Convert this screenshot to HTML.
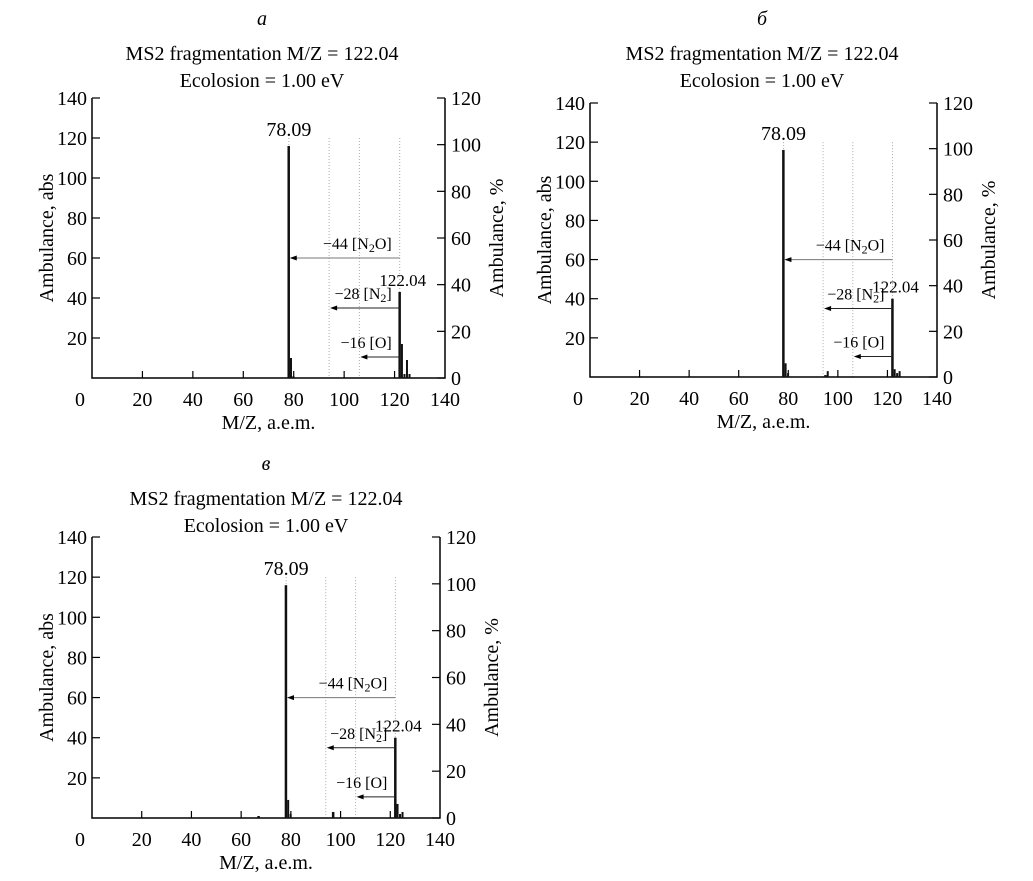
<!DOCTYPE html>
<html><head><meta charset="utf-8"><style>
html,body{margin:0;padding:0;background:#fff}
svg{display:block;font-family:"Liberation Serif",serif}
</style></head><body>
<svg id="chart" width="1033" height="881" viewBox="0 0 1033 881" xmlns="http://www.w3.org/2000/svg"></svg>
<script>
// Data (m/z, abundance abs)
const panelLetters = ["а", "б", "в"];
const peaksA_mz = [78, 79, 80, 122, 123, 124, 125, 126];
const peaksA_ab = [116, 10, 1, 43, 17, 2, 9, 2];
const peaksB_mz = [78, 79, 80, 95, 96, 122, 123, 124, 125];
const peaksB_ab = [116, 7, 2, 1, 3, 40, 4, 2, 3];
const peaksC_mz = [67, 78, 79, 80, 97, 122, 123, 124, 125];
const peaksC_ab = [1, 116, 9, 2, 3, 40, 7, 2, 3];
const xTicks = [0, 20, 40, 60, 80, 100, 120, 140];
const yLeftTicks = [20, 40, 60, 80, 100, 120, 140];
const yRightTicks = [0, 20, 40, 60, 80, 100, 120];
const lossLabels = ["−44 [N<tspan font-size='12' dy='3'>2</tspan><tspan dy='-3'>O]</tspan>", "−28 [N<tspan font-size='12' dy='3'>2</tspan><tspan dy='-3'>]</tspan>", "−16 [O]"];
const lossMz = [44, 28, 16];
const lossLevel = [60, 35, 10.5];
const parentMz = 122.04;
const baseMz = 78.09;

const svg = document.getElementById('chart');
const NS = 'http://www.w3.org/2000/svg';
function mk(tag, attrs, parent) {
  const e = document.createElementNS(NS, tag);
  for (const k in attrs) e.setAttribute(k, attrs[k]);
  (parent || svg).appendChild(e);
  return e;
}

function panel(id, L, R, T, B, cx, letterY, mzs, abs) {
  const g = mk('g', {});
  
  
  const x = v => L + v / 140 * (R - L);
  const yL = v => B - v / 140 * (B - T);
  const yR = v => B - v / 120 * (B - T);
  let t = mk('text', {x: cx, y: letterY, 'text-anchor': 'middle', 'font-size': 20, 'font-style': 'italic'}, g);
  t.textContent = panelLetters[id];
  
  
  t = mk('text', {x: cx, y: letterY + 35, 'text-anchor': 'middle', 'font-size': 20}, g);
  t.textContent = 'MS2 fragmentation M/Z = 122.04';
  
  
  t = mk('text', {x: cx, y: letterY + 62, 'text-anchor': 'middle', 'font-size': 20}, g);
  t.textContent = 'Ecolosion = 1.00 eV';
  
  
  [baseMz, parentMz - 28, parentMz - 16, parentMz].forEach(m => {
    const l = mk('line', {x1: x(m), x2: x(m), y1: yL(120), y2: B, stroke: '#aaa', 'stroke-width': 1, 'stroke-dasharray': '1,2'}, g);
    
    
  });
  const ax = mk('path', {d: `M${L},${T}V${B}H${R}V${T}`, fill: 'none', stroke: '#000', 'stroke-width': 1.5}, g);
  
  
  yLeftTicks.forEach(v => {
    mk('line', {x1: L, x2: L + 8, y1: yL(v), y2: yL(v), stroke: '#000', 'stroke-width': 1.2}, g);
    const tt = mk('text', {x: L - 5, y: yL(v) + 7, 'text-anchor': 'end', 'font-size': 20}, g);
    tt.textContent = v;
    
    
  });
  yRightTicks.forEach(v => {
    mk('line', {x1: R - 8, x2: R, y1: yR(v), y2: yR(v), stroke: '#000', 'stroke-width': 1.2}, g);
    const tt = mk('text', {x: R + 6, y: yR(v) + 7, 'font-size': 20}, g);
    tt.textContent = v;
    
    
  });
  xTicks.forEach(v => {
    if (v > 0 && v < 140) mk('line', {x1: x(v), x2: x(v), y1: B, y2: B - 7, stroke: '#000', 'stroke-width': 1.2}, g);
    const tt = mk('text', {x: v === 0 ? x(v) - 12 : x(v), y: B + 28, 'text-anchor': 'middle', 'font-size': 20}, g);
    tt.textContent = v;
    
    
  });
  t = mk('text', {x: (L + R) / 2, y: B + 51, 'text-anchor': 'middle', 'font-size': 20}, g);
  t.textContent = 'M/Z, a.e.m.';
  
  
  const my = (T + B) / 2;
  t = mk('text', {x: 0, y: 0, 'text-anchor': 'middle', 'font-size': 20, transform: `translate(${L - 39},${my}) rotate(-90)`}, g);
  t.textContent = 'Ambulance, abs';
  
  
  t = mk('text', {x: 0, y: 0, 'text-anchor': 'middle', 'font-size': 20, transform: `translate(${R + 58},${my}) rotate(-90)`}, g);
  t.textContent = 'Ambulance, %';
  
  
  mzs.forEach((m, i) => {
    const w = (i > 0 && mzs[i - 1] === m - 1) ? 2 : 2.5;
    const b = mk('rect', {x: x(m) - 1.2, y: yL(abs[i]), width: w, height: B - yL(abs[i]), fill: '#111'}, g);
    
    
  });
  t = mk('text', {x: x(baseMz), y: yL(abs[mzs.indexOf(78)]) - 10, 'text-anchor': 'middle', 'font-size': 20}, g);
  t.textContent = '78.09';
  
  
  t = mk('text', {x: x(parentMz) + 3, y: yL(abs[mzs.indexOf(122)]) - 6, 'text-anchor': 'middle', 'font-size': 17}, g);
  t.textContent = '122.04';
  
  
  lossMz.forEach((d, i) => {
    const y = yL(lossLevel[i]);
    const x1 = x(parentMz), x2 = x(parentMz - d) + 1;
    const a = mk('g', {}, g);
    
    
    mk('line', {x1: x1, x2: x2 + 6, y1: y, y2: y, stroke: i === 0 ? '#777' : '#222', 'stroke-width': 1}, a);
    mk('path', {d: `M${x2},${y}l7,-2.5v5z`, fill: '#000'}, a);
    const lt = mk('text', {x: x1 - 8, y: y - 9, 'text-anchor': 'end', 'font-size': 16}, a);
    lt.innerHTML = lossLabels[i];
  });
}
panel(0, 92, 445, 98, 378, 262, 25, peaksA_mz, peaksA_ab);
panel(1, 590, 937, 103, 377, 762, 25, peaksB_mz, peaksB_ab);
panel(2, 92, 440, 537, 818, 266, 470, peaksC_mz, peaksC_ab);
</script>
</body></html>
